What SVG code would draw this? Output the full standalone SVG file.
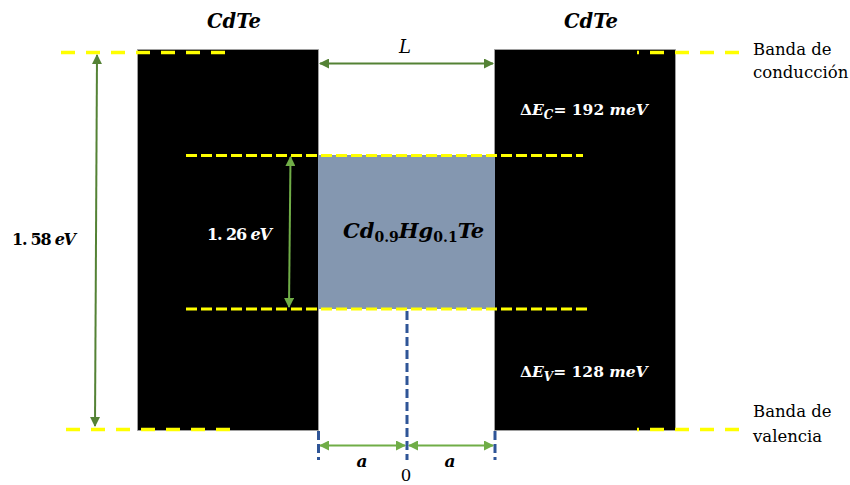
<svg xmlns="http://www.w3.org/2000/svg" width="850" height="485" viewBox="0 0 850 485">
<style>
.blk{fill:#000;stroke:#A6A6A6;stroke-width:0.8}
.well{fill:#8497B0}
.ylo{stroke:#FFFF00;stroke-width:3.5;fill:none;stroke-dasharray:14 11}
.ylo2{stroke:#FFFF00;stroke-width:3;fill:none;stroke-dasharray:11 4}
.blu{stroke:#2F5597;stroke-width:3;fill:none;stroke-dasharray:9 4}
.dg{stroke:#548235;stroke-width:2;fill:none}
.lg{stroke:#70AD47;stroke-width:2;fill:none}
.m{font-family:"DejaVu Serif","Liberation Serif",serif;font-weight:bold;font-style:italic}
.up{font-style:normal}
.lbl{font-family:"DejaVu Serif","Liberation Serif",serif;font-size:16.5px;fill:#000}
.w{fill:#fff}
</style>
<defs>
<marker id="ad" viewBox="0 0 10 10" refX="9" refY="5" markerWidth="5" markerHeight="5" orient="auto-start-reverse" markerUnits="strokeWidth"><path d="M0,0 L10,5 L0,10 z" fill="#548235"/></marker>
<marker id="al" viewBox="0 0 10 10" refX="9" refY="5" markerWidth="5" markerHeight="5" orient="auto-start-reverse" markerUnits="strokeWidth"><path d="M0,0 L10,5 L0,10 z" fill="#70AD47"/></marker>
</defs>
<g id="cdte-left"><rect class="blk" x="137.5" y="49.5" width="181" height="381"/></g>
<g id="cdte-right"><rect class="blk" x="494.5" y="49.5" width="181" height="381"/></g>
<g id="well"><rect class="well" x="318" y="155" width="177" height="154"/></g>
<g id="bands">
<line class="ylo" x1="61" y1="52.5" x2="228" y2="52.5"/>
<line class="ylo" x1="637" y1="52.5" x2="741" y2="52.5" stroke-dashoffset="12"/>
<line class="ylo" x1="66" y1="429.5" x2="233" y2="429.5"/>
<line class="ylo" x1="637" y1="429.5" x2="741" y2="429.5" stroke-dashoffset="12"/>
<line class="ylo2" x1="186" y1="155.5" x2="583" y2="155.5"/>
<line class="ylo2" x1="186" y1="309" x2="591" y2="309"/>
</g>
<g id="connectors">
<line class="dg" x1="97" y1="55" x2="95" y2="426" marker-start="url(#ad)" marker-end="url(#ad)"/>
<line class="dg" x1="320" y1="63.5" x2="493" y2="63.5" marker-start="url(#ad)" marker-end="url(#ad)"/>
<line class="lg" x1="290.5" y1="157" x2="289" y2="307" marker-start="url(#al)" marker-end="url(#al)"/>
<line class="lg" x1="320" y1="445.5" x2="405" y2="445.5" marker-start="url(#al)" marker-end="url(#al)"/>
<line class="lg" x1="409" y1="445.5" x2="493" y2="445.5" marker-start="url(#al)" marker-end="url(#al)"/>
<line class="blu" x1="407" y1="311" x2="407" y2="460"/>
<line class="blu" x1="318.5" y1="431" x2="318.5" y2="460"/>
<line class="blu" x1="495" y1="431" x2="495" y2="460"/>
</g>
<g id="labels">
<text class="m" x="234" y="28" font-size="19.5" text-anchor="middle">CdTe</text>
<text class="m" x="591" y="28" font-size="19.5" text-anchor="middle">CdTe</text>
<text x="405" y="53" font-family="DejaVu Serif,serif" font-style="italic" font-size="18" text-anchor="middle">L</text>
<text class="lbl" x="753" y="55">Banda de</text>
<text class="lbl" x="753" y="78">conducción</text>
<text class="lbl" x="753" y="417">Banda de</text>
<text class="lbl" x="753" y="442">valencia</text>
<text class="m w" x="520" y="115" font-size="15.5"><tspan class="up">Δ</tspan>E<tspan font-size="12" dy="4">C</tspan><tspan dy="-4" class="up">= 192 </tspan>meV</text>
<text class="m w" x="520" y="377" font-size="15.5"><tspan class="up">Δ</tspan>E<tspan font-size="12" dy="4">V</tspan><tspan dy="-4" class="up">= 128 </tspan>meV</text>
<text class="m" x="12" y="245" font-size="16" textLength="64" lengthAdjust="spacing"><tspan class="up">1. 58 </tspan>eV</text>
<text class="m w" x="207" y="240" font-size="16" textLength="65" lengthAdjust="spacing"><tspan class="up">1. 26 </tspan>eV</text>
<text class="m" x="343" y="238" font-size="21">Cd<tspan class="up" font-size="14" dy="4">0.9</tspan><tspan dy="-4">Hg</tspan><tspan class="up" font-size="14" dy="4">0.1</tspan><tspan dy="-4">Te</tspan></text>
<text class="m" x="362" y="467" font-size="17" text-anchor="middle">a</text>
<text class="m" x="450" y="467" font-size="17" text-anchor="middle">a</text>
<text class="lbl" x="406" y="481" text-anchor="middle">0</text>
</g>
</svg>
